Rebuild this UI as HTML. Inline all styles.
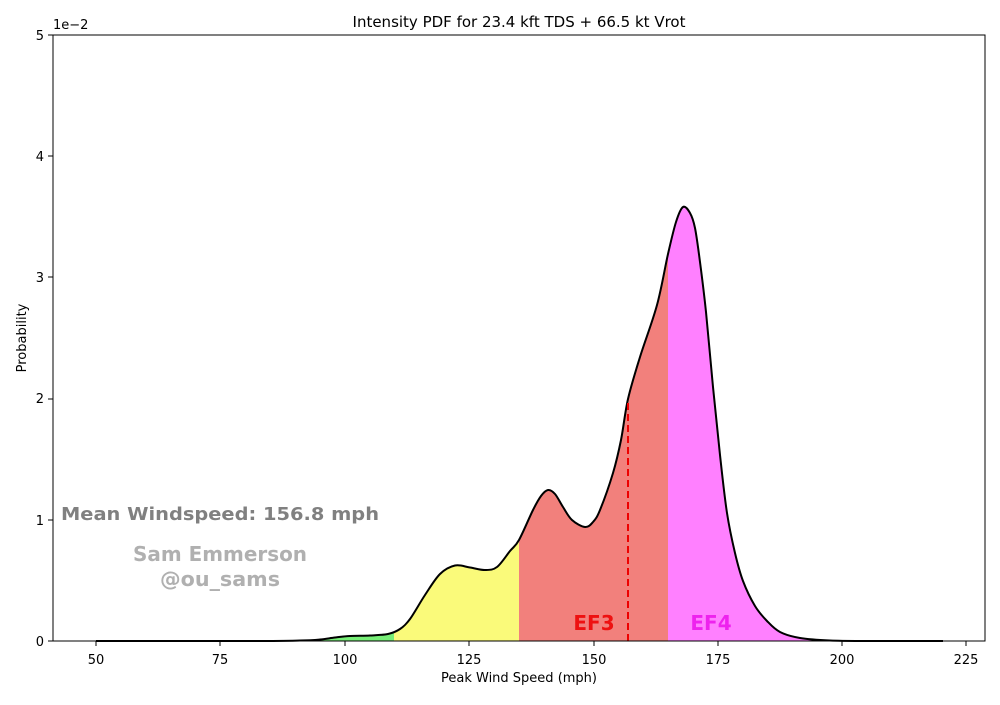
<!DOCTYPE html><html><head><style>body{margin:0;background:#fff}svg{font-family:"DejaVu Sans","Liberation Sans",sans-serif}</style></head><body>
<svg width="1000" height="700" viewBox="0 0 1000 700" xmlns="http://www.w3.org/2000/svg">
<defs>
<clipPath id="c"><path id="cp" d=""/></clipPath>
</defs>
<g clip-path="url(#c)">
<rect x="96" y="0" width="298" height="641" fill="#77ee77"/>
<rect x="394" y="0" width="125" height="641" fill="#fafa7a"/>
<rect x="519" y="0" width="149" height="641" fill="#f2807c"/>
<rect x="668" y="0" width="280" height="641" fill="#ff80ff"/>
</g>
<path id="ln" d="" fill="none" stroke="#000" stroke-width="2" stroke-linejoin="round"/>
<line x1="628" y1="641" x2="628" y2="400" stroke="#e00" stroke-width="2" stroke-dasharray="7,4"/>
<text x="594" y="630" font-size="20" font-weight="bold" fill="#ee1111" text-anchor="middle">EF3</text>
<text x="711" y="630" font-size="20" font-weight="bold" fill="#ee22ee" text-anchor="middle">EF4</text>
<text x="220" y="520" font-size="18" font-weight="bold" fill="#808080" text-anchor="middle" textLength="318" lengthAdjust="spacingAndGlyphs">Mean Windspeed: 156.8 mph</text>
<text x="220" y="561" font-size="20" font-weight="bold" fill="#b0b0b0" text-anchor="middle" textLength="174" lengthAdjust="spacingAndGlyphs">Sam Emmerson</text>
<text x="220" y="586" font-size="20" font-weight="bold" fill="#b0b0b0" text-anchor="middle" textLength="120" lengthAdjust="spacingAndGlyphs">@ou_sams</text>
<rect x="53" y="35" width="932" height="606" fill="none" stroke="#000" stroke-width="1"/>
<g font-size="13" fill="#000">
<text x="519" y="27" text-anchor="middle" font-size="15">Intensity PDF for 23.4 kft TDS + 66.5 kt Vrot</text>
<text x="519" y="682" text-anchor="middle">Peak Wind Speed (mph)</text>
<text transform="translate(26,338) rotate(-90)" text-anchor="middle">Probability</text>
<text x="53" y="29">1e−2</text>
<g text-anchor="middle">
<text x="96" y="664">50</text><text x="220" y="664">75</text><text x="345" y="664">100</text><text x="469" y="664">125</text><text x="594" y="664">150</text><text x="718" y="664">175</text><text x="842" y="664">200</text><text x="966" y="664">225</text>
</g>
<g text-anchor="end">
<text x="44" y="646">0</text><text x="44" y="525">1</text><text x="44" y="403">2</text><text x="44" y="282">3</text><text x="44" y="161">4</text><text x="44" y="40">5</text>
</g>
</g>
<g stroke="#000">
<path d="M96,641v5M220,641v5M345,641v5M469,641v5M594,641v5M718,641v5M842,641v5M966,641v5"/>
<path d="M53,641h-5M53,520h-5M53,399h-5M53,277h-5M53,156h-5M53,35h-5"/>
</g>
</svg>
<script>
var P=[[96,641],[250,641],[300,640.5],[320,639.5],[335,637.5],[350,636],[370,635.5],[388,634],[400,629],[410,619],[425,595],[440,574],[455,565.5],[470,567.5],[485,570],[497,567],[510,551],[519,540],[533,510],[541,496],[548,490],[555,494],[563,507],[572,520],[585,527],[593,522],[600,510],[613,473],[621,440],[628,399],[640,357],[657,305],[668,254],[676,222],[683,207],[690,213],[695,228],[700,262],[706,312],[713,387],[720,455],[727,513],[735,553],[743,581],[755,606],[767,621],[780,632],[800,638],[830,640.5],[870,641],[943,641]];
var d="M"+P[0][0]+","+P[0][1];
for(var i=0;i<P.length-1;i++){var p0=P[Math.max(i-1,0)],p1=P[i],p2=P[i+1],p3=P[Math.min(i+2,P.length-1)];
var c1=[p1[0]+(p2[0]-p0[0])/6,p1[1]+(p2[1]-p0[1])/6],c2=[p2[0]-(p3[0]-p1[0])/6,p2[1]-(p3[1]-p1[1])/6];
d+=" C"+c1[0].toFixed(2)+","+c1[1].toFixed(2)+" "+c2[0].toFixed(2)+","+c2[1].toFixed(2)+" "+p2[0]+","+p2[1];}
document.getElementById("ln").setAttribute("d",d);
document.getElementById("cp").setAttribute("d",d+" L943,641.5 L96,641.5 Z");
</script>
</body></html>
